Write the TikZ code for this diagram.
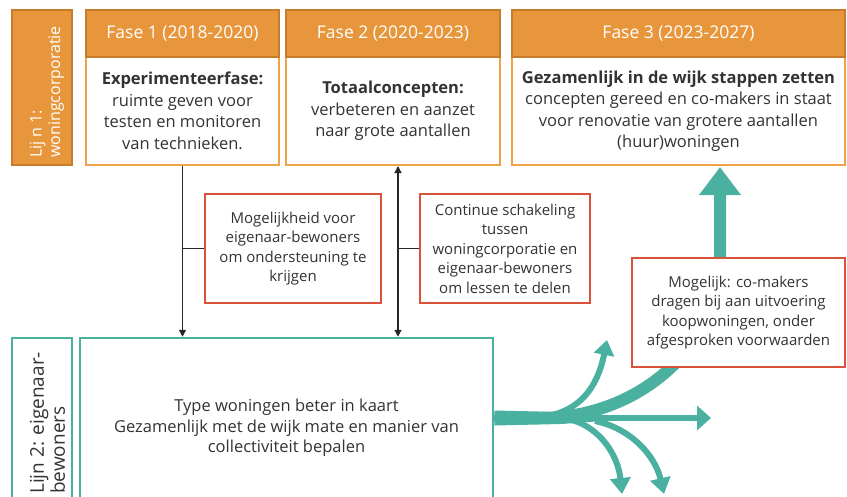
\documentclass[tikz,border=0pt]{standalone}
\usepackage{fontspec}
\setmainfont{Open Sans}
\usetikzlibrary{arrows.meta}
\definecolor{hdr}{HTML}{E8963C}
\definecolor{hdrdark}{HTML}{C97B2C}
\definecolor{bodyor}{HTML}{F0A24A}
\definecolor{tealc}{HTML}{4AB0A0}
\definecolor{redc}{HTML}{D9533A}
\definecolor{txt}{HTML}{333333}
\begin{document}
\begin{tikzpicture}[x=1pt,y=-1pt,
  >={Triangle[width=7pt,length=7pt]},
  hdrbox/.style={draw=hdrdark, fill=hdr, line width=2pt, text=white, font=\fontsize{17.5}{21}\selectfont, inner sep=0pt, align=center},
  bodybox/.style={draw=bodyor, fill=white, line width=2pt, text=txt, font=\fontsize{16.5}{21.5}\selectfont, inner sep=0pt, align=center},
  redbox/.style={draw=redc, fill=white, line width=2.5pt, text=txt, font=\fontsize{15}{19.5}\selectfont, inner sep=0pt, align=center},
  tealbox/.style={draw=tealc, fill=white, line width=2.5pt, text=txt, font=\fontsize{16.5}{20.5}\selectfont, inner sep=0pt, align=center},
  sidetext/.style={rotate=90, anchor=west, align=left, inner sep=0pt},
  conn/.style={line width=1.3pt, black!85},
  flow/.style={draw=tealc, line cap=butt}
]
\useasboundingbox (0,0) rectangle (847,496);

% Lijn 1
\node[hdrbox, minimum width=60pt, minimum height=155pt] (l1) at (42,87.5) {};
\node[sidetext, text=white, font=\fontsize{16}{18.5}\selectfont] (l1t) at (47,158) {Lij n 1:\\woningcorporatie};

% Phases
\node[bodybox, minimum width=193pt, minimum height=108pt] (f1b) at (182.5,111) {\textbf{Experimenteerfase:}\\ruimte geven voor\\testen en monitoren\\van technieken.};
\node[hdrbox, minimum width=193pt, minimum height=47pt] (f1h) at (182.5,33.5) {Fase 1 (2018-2020)};

\node[bodybox, minimum width=214pt, minimum height=108pt] (f2b) at (393,111) {\textbf{Totaalconcepten:}\\verbeteren en aanzet\\naar grote aantallen};
\node[hdrbox, minimum width=214pt, minimum height=47pt] (f2h) at (393,33.5) {Fase 2 (2020-2023)};

\node[bodybox, minimum width=333pt, minimum height=108pt] (f3b) at (678.5,111) {\textbf{Gezamenlijk in de wijk stappen zetten}\\concepten gereed en co-makers in staat\\voor renovatie van grotere aantallen\\(huur)woningen};
\node[hdrbox, minimum width=333pt, minimum height=47pt] (f3h) at (678.5,33.5) {Fase 3 (2023-2027)};

% Lijn 2
\node[tealbox, minimum width=60pt, minimum height=180pt] (l2) at (42,428) {};
\node[sidetext, text=txt, font=\fontsize{19}{21}\selectfont] (l2t) at (47.5,494) {Lijn 2: eigenaar-\\bewoners};
\node[tealbox, minimum width=413pt, minimum height=180pt] (tb) at (286.5,428) {Type woningen beter in kaart\\Gezamenlijk met de wijk mate en manier van\\collectiviteit bepalen};

% red boxes 1,2
\node[redbox, minimum width=176pt, minimum height=109pt] (r1) at (293,248.5) {Mogelijkheid voor\\eigenaar-bewoners\\om ondersteuning te\\krijgen};
\node[redbox, minimum width=170pt, minimum height=109pt] (r2) at (505,248.5) {Continue schakeling\\tussen\\woningcorporatie en\\eigenaar-bewoners\\om lessen te delen};

% black connectors
\draw[conn, ->] (f1b.south) -- (f1b.south |- tb.north);
\draw[conn] (f1b.south |- r1.west) -- (r1.west);
\draw[conn, <->] ([xshift=5pt]f2b.south) -- ([xshift=5pt]f2b.south |- tb.north);
\draw[conn] ([xshift=5pt]f2b.south |- r2.west) -- (r2.west);

% teal flows
\coordinate (t0) at ([yshift=10pt]tb.east);
\coordinate (bUp) at (548,416);
\coordinate (bBig) at (540,418);
\coordinate (bD1) at (572,420);
\coordinate (bD2) at (595,421);
\coordinate (eMain) at (711,418);
\coordinate (eUp) at (607,340);
\coordinate (eD1) at (622,494);
\coordinate (eD2) at (664,494);
\coordinate (eBig) at ([xshift=41.5pt,yshift=-1pt]f3b.south);

\fill[tealc] (t0) ++(0,-7.5) -- ++(67,1.5) -- ++(45,3.2) -- ++(0,5.6) -- ++(-45,3.2) -- ++(-67,1.5) -- cycle;
\draw[flow, line width=6.5pt, -{Triangle[width=24pt,length=14pt]}] (t0) -- (eMain);
\draw[flow, line width=12pt, -{Triangle[width=40pt,length=28pt]}] (bBig) .. controls (639,418) and (720,346) .. (720,258) -- (eBig);
\draw[flow, line width=6pt, -{Triangle[width=20pt,length=15pt]}] (bUp) .. controls (578,410) and (597,390) .. (eUp);
\draw[flow, line width=6pt, -{Triangle[width=20pt,length=16pt]}] (bD1) .. controls (600,428) and (618,455) .. (eD1);
\draw[flow, line width=6pt, -{Triangle[width=20pt,length=16pt]}] (bD2) .. controls (630,428) and (655,455) .. (eD2);

% red box 3 on top of flow
\node[redbox, minimum width=213pt, minimum height=109pt] (r3) at (738.5,312.5) {Mogelijk: co-makers\\dragen bij aan uitvoering\\koopwoningen, onder\\afgesproken voorwaarden};
\end{tikzpicture}
\end{document}
